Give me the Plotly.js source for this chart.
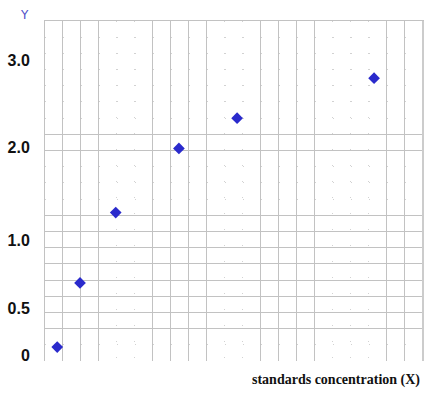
<!DOCTYPE html>
<html>
<head>
<meta charset="utf-8">
<script src="https://cdn.plot.ly/plotly-3.0.1.min.js"></script>
<style>html,body{margin:0;padding:0;background:#fff;}#chart{width:437px;height:398px;}</style>
</head>
<body>
<div id="chart"></div>
<script>
// data (in grid-square units of the graph paper)
var xValues = [0.68, 1.95, 3.94, 7.46, 10.70, 18.33];
var yValues = [0.86, 4.82, 9.17, 13.13, 15.00, 17.47];

// y tick labels and where they sit on the paper
var yTickText = ['<b>3.0</b>', '<b>2.0</b>', '<b>1.0</b>', '<b>0.5</b>', '<b>0</b>'];
var yTickVals = [18.58, 13.21, 7.42, 3.26, 0.37];

// graph-paper lines
var xSolidLines = [1, 2, 3, 6, 7, 8, 9, 12, 13, 14, 15, 19, 20];
var xDotLines = [4, 5, 10, 11, 16, 17, 18];
var ySolidLines = [2, 3, 4, 5, 6, 7, 8, 9, 13, 14];
var yDotLines = [1, 10, 11, 12, 15, 16, 17, 18, 19, 20];

var trace = {
  x: xValues, y: yValues, type: 'scatter', mode: 'markers',
  xaxis: 'x', yaxis: 'y',
  marker: {symbol: 'diamond', size: 9, color: '#2a2acc'},
  hoverinfo: 'skip'
};
var labelTrace = {x: [null], y: [null], type: 'scatter', mode: 'markers', xaxis: 'x', yaxis: 'y2', hoverinfo: 'skip'};

var layout = {
  width: 437, height: 398,
  margin: {l: 45, r: 15, t: 21, b: 37},
  paper_bgcolor: '#fff', plot_bgcolor: '#fff',
  showlegend: false,
  xaxis: {
    range: [0, 21], tickmode: 'array', tickvals: xSolidLines,
    showticklabels: false, ticks: '', zeroline: false, side: 'top',
    showline: true, linecolor: '#c2c2c2', linewidth: 1,
    showgrid: true, gridcolor: '#c2c2c2', gridwidth: 1,
    minor: {tickmode: 'array', tickvals: xDotLines, showgrid: true, gridcolor: '#d2d2d2', griddash: '1px,15px', gridwidth: 1, ticks: ''},
    fixedrange: true
  },
  yaxis: {
    range: [0, 21], tickmode: 'array', tickvals: ySolidLines,
    showticklabels: false, ticks: '', zeroline: false, side: 'right',
    showline: true, linecolor: '#cccccc', linewidth: 2,
    showgrid: true, gridcolor: '#c2c2c2', gridwidth: 1,
    minor: {tickmode: 'array', tickvals: yDotLines, showgrid: true, gridcolor: '#d2d2d2', griddash: '1px,17px', gridwidth: 1, ticks: ''},
    fixedrange: true
  },
  yaxis2: {
    range: [0, 21], overlaying: 'y', side: 'left',
    tickmode: 'array', tickvals: yTickVals, ticktext: yTickText,
    showgrid: false, zeroline: false, showline: true, linecolor: '#c2c2c2', linewidth: 1, ticks: '',
    ticklabelstandoff: 11,
    tickfont: {family: 'Liberation Sans, Arial, sans-serif', size: 16, color: '#111'},
    fixedrange: true
  },
  annotations: [
    {text: 'Y', xref: 'paper', yref: 'paper', x: -0.055, y: 1.0, xanchor: 'center', yanchor: 'bottom', yshift: -3,
     showarrow: false, font: {family: 'DejaVu Sans, sans-serif', size: 12, color: '#5050c8'}},
    {text: '<b>standards concentration (X)</b>', xref: 'paper', yref: 'paper', x: 1.0, y: 0, xanchor: 'right', yanchor: 'top', yshift: -9,
     showarrow: false, font: {family: 'Liberation Serif, Times New Roman, serif', size: 14, color: '#111'}}
  ]
};

Plotly.newPlot('chart', [trace, labelTrace], layout, {displayModeBar: false, staticPlot: true});
</script>
</body>
</html>
